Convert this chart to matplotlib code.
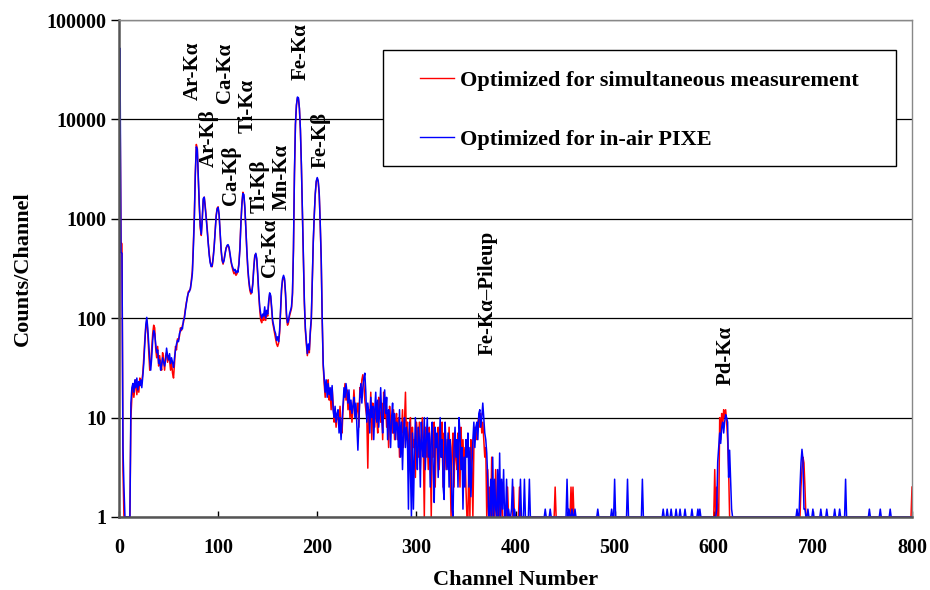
import matplotlib
matplotlib.use('Agg')
import matplotlib.pyplot as plt
import numpy as np
from matplotlib.patches import Rectangle
from matplotlib.ticker import FixedLocator, NullLocator, FuncFormatter

plt.rcParams['font.family'] = 'Liberation Serif'
plt.rcParams['font.weight'] = 'bold'

# Spectrum, channels 0-220 (characteristic X-ray peaks).
blue_main = [
    1, 52000, 460, 450, 5, 2, 1, 1, 1, 1,
    1, 1, 14, 20, 22, 18, 24, 20, 25, 19,
    23, 21, 24, 20, 26, 35, 55, 85, 102, 80,
    55, 38, 30, 40, 60, 75, 70, 55, 45, 48,
    35, 38, 30, 34, 40, 36, 33, 38, 50, 42,
    38, 44, 35, 40, 36, 32, 40, 48, 55, 60,
    58, 70, 75, 80, 78, 95, 100, 120, 140, 165,
    180, 185, 200, 230, 280, 500, 1000, 2800, 5300, 5000,
    2600, 1400, 850, 700, 1000, 1600, 1650, 1300, 1000, 750,
    560, 430, 360, 330, 340, 400, 520, 750, 1050, 1250,
    1300, 1100, 750, 500, 390, 360, 380, 440, 500, 540,
    550, 520, 450, 380, 340, 320, 300, 310, 285, 300,
    290, 350, 500, 900, 1400, 1800, 1750, 1300, 800, 480,
    320, 240, 200, 185, 180, 220, 320, 420, 450, 400,
    280, 180, 130, 110, 100, 110, 105, 130, 100, 120,
    110, 150, 180, 170, 130, 95, 85, 75, 70, 60,
    65, 58, 75, 120, 200, 250, 270, 250, 180, 110,
    90, 95, 110, 120, 130, 180, 500, 2900, 9000, 14000,
    16800, 16500, 13000, 8000, 3500, 1200, 400, 150, 80, 60,
    44, 55, 48, 75, 100, 250, 600, 1100, 1800, 2400,
    2600, 2400, 1800, 900, 400, 100, 35, 25, 18, 24,
    16, 22, 17, 20, 15, 21, 12, 10, 13, 9,
    11,
]
red_main = [
    1, 17000, 580, 560, 3, 1, 1, 1, 1, 1,
    1, 1, 10, 16, 22, 16, 20, 24, 17, 22,
    18, 25, 21, 23, 28, 40, 60, 80, 95, 70,
    45, 30, 35, 50, 70, 85, 80, 50, 40, 52,
    33, 42, 34, 30, 45, 38, 30, 42, 45, 36,
    42, 38, 30, 36, 28, 25, 35, 52, 48, 62,
    60, 66, 80, 75, 85, 90, 105, 125, 145, 160,
    185, 190, 195, 240, 300, 550, 1100, 2900, 5600, 5100,
    2500, 1350, 800, 680, 1000, 1550, 1650, 1350, 1050, 800,
    580, 450, 370, 340, 330, 410, 530, 760, 1080, 1280,
    1320, 1080, 730, 480, 380, 350, 390, 450, 510, 530,
    540, 500, 430, 370, 330, 300, 280, 290, 270, 280,
    300, 360, 520, 920, 1450, 1850, 1700, 1250, 780, 460,
    300, 230, 190, 175, 185, 230, 330, 430, 440, 380,
    260, 170, 120, 95, 90, 105, 95, 120, 95, 115,
    105, 140, 175, 165, 120, 90, 80, 70, 62, 55,
    52, 56, 70, 115, 190, 240, 260, 240, 170, 100,
    85, 90, 105, 115, 125, 170, 480, 2800, 8800, 13800,
    16500, 16200, 12800, 7800, 3400, 1150, 380, 140, 75, 55,
    42, 50, 45, 70, 95, 240, 580, 1080, 1750, 2350,
    2550, 2350, 1750, 880, 380, 95, 33, 22, 16, 21,
    19, 24, 15, 18, 12, 20, 14, 9, 11, 8,
    10,
]

# Continuum, channels 221-400.
blue_cont = [
    12, 7, 10, 6, 9, 14, 20, 16, 22, 18,
    14, 19, 12, 15, 11, 13, 16, 10, 14, 8,
    4.7, 9, 17, 22, 14, 20, 25, 28, 18, 9,
    14, 11, 7, 16, 10, 13, 6, 12, 18, 9,
    15, 8, 12, 20, 10, 7, 14, 19, 11, 16,
    6, 12, 9, 5, 10, 14, 7, 11, 6, 9,
    8, 5, 12, 4, 9, 3, 7, 10, 5, 8,
    6, 1.2, 9, 3, 1, 7, 1.2, 4, 10, 5,
    3, 8, 6, 2, 9, 5, 4, 10, 3, 6,
    10, 4, 7, 2, 6, 9, 3, 1.4, 8, 5,
    7, 2.5, 5, 10, 4, 6, 2, 1.5, 9, 5,
    3, 7, 2, 6, 4, 1.2, 1, 5, 8, 4,
    6, 2, 10, 7, 3, 5, 1.2, 4, 2, 6,
    4, 7, 2, 5, 1.6, 3, 6, 9, 5, 8,
    9, 6, 11, 12, 8, 10, 14, 10, 7, 6,
    4.4, 2.4, 1, 1, 2.4, 1, 4, 1, 2.4, 1.2,
    1, 3, 1, 4.4, 1, 2.4, 1.2, 3, 1, 1,
    2.4, 1, 1.2, 1, 1, 1.2, 2.4, 1, 1.2, 1,
]
red_cont = [
    10, 9, 13, 8, 7, 12, 17, 22, 15, 19,
    12, 17, 10, 14, 9, 12, 19, 13, 10, 12,
    14, 8, 20, 16, 24, 27, 22, 15, 12, 10,
    3.1, 12, 9, 18, 6, 14, 11, 8, 13, 10,
    7, 16, 11, 9, 14, 6, 18, 10, 13, 8,
    11, 5, 13, 8, 10, 7, 12, 6, 9, 11,
    6, 10, 4, 8, 7, 12, 5, 9, 18, 6,
    9, 4, 7, 10, 3, 8, 5, 6, 2.5, 9,
    7, 4, 9, 3, 6, 10, 5, 1, 8, 4,
    6, 3, 8, 5, 1, 7, 4, 9, 2, 6,
    5, 8, 3, 6, 4, 9, 2, 7, 5, 3,
    6, 4, 8, 3, 1, 5, 7, 2, 6, 4,
    3, 7, 5, 2, 8, 4, 6, 3, 5, 2,
    1, 1, 4, 1, 6, 3, 1, 5, 8, 7,
    6, 9, 10, 8, 11, 7, 9, 6, 4, 5,
    1, 3, 1, 2, 1, 4, 1, 2, 1, 3,
    1, 1, 2, 1, 1, 2, 1, 1, 1, 1,
    1, 2, 1, 1, 1, 1, 1, 2, 1, 1,
]

# Sparse high-channel counts (everything else sits at 1).
blue_tail_ch = [405, 409, 414, 430, 435, 452, 454, 457, 460, 483,
                497, 500, 513, 528, 549, 553, 557, 562, 566, 571,
                578, 584, 586, 603, 604, 605, 606, 607, 608, 609,
                610, 611, 612, 613, 614, 615, 616, 617, 618, 684,
                687, 688, 689, 690, 691, 692, 695, 700, 708, 714,
                722, 727, 733, 757, 768, 778]
blue_tail_val = [2.4, 2.4, 2.4, 1.2, 1.2, 2.4, 1.2, 1.2, 1.2, 1.2,
                 1.2, 2.4, 2.4, 2.4, 1.2, 1.2, 1.2, 1.2, 1.2, 1.2,
                 1.2, 1.2, 1.2, 1.2, 3.6, 5, 7, 5.5, 8, 9,
                 7, 9, 10.7, 10, 9, 2.5, 4.7, 2.4, 1.2, 1.2,
                 2, 3.5, 4.8, 3.8, 1.2, 1.2, 1.2, 1.2, 1.2, 1.2,
                 1.2, 1.2, 2.4, 1.2, 1.2, 1.2]
red_tail_ch = [404, 440, 456, 458, 601, 603, 606, 607, 608, 609,
               610, 611, 612, 613, 614, 615, 688, 689, 690, 691,
               692, 800]
red_tail_val = [2, 2, 2, 2, 3, 2, 10, 6, 11, 8,
                12, 10, 12, 9, 6, 3, 2, 3, 4, 3.5,
                2, 2]

# Peak labels: text, channel, counts at the label's lower end.
peak_names = ['Ar-Kα', 'Ar-Kβ', 'Ca-Kα', 'Ca-Kβ', 'Ti-Kα', 'Ti-Kβ',
              'Cr-Kα', 'Mn-Kα', 'Fe-Kα', 'Fe-Kβ', 'Fe-Kα–Pileup', 'Pd-Kα']
peak_ch = [74.5, 90.5, 106.5, 112.5, 129.5, 141.5, 152.4, 164.5, 183, 203, 371.5, 612]
peak_y = [15700, 3320, 14600, 1377, 7300, 1143, 260, 1227, 24900, 3245, 42.6, 21.3]

channels = np.arange(801)


def build(main, cont, tail_ch, tail_val):
    counts = np.ones(801)
    counts[:221] = main
    counts[221:401] = cont
    counts[tail_ch] = tail_val
    return counts


red = build(red_main, red_cont, red_tail_ch, red_tail_val)
blue = build(blue_main, blue_cont, blue_tail_ch, blue_tail_val)

fig = plt.figure(figsize=(9.3, 5.9), dpi=100)
ax = fig.add_axes([119 / 930, 1 - 517 / 590, 793 / 930, 497 / 590])

ax.plot(channels, red, color='#ff0000', lw=1.1,
        label='Optimized for simultaneous measurement')
ax.plot(channels, blue, color='#0000ff', lw=1.1,
        label='Optimized for in-air PIXE')

ax.set_yscale('log')
ax.set_xlim(0, 800)
ax.set_ylim(1, 100000)
ax.yaxis.set_major_locator(FixedLocator([1, 10, 100, 1000, 10000, 100000]))
ax.yaxis.set_minor_locator(NullLocator())
ax.yaxis.set_major_formatter(FuncFormatter(lambda v, p: '%d' % round(v)))
ax.set_xticks(np.arange(0, 801, 100))

ax.grid(axis='y', color='black', lw=0.9)
ax.set_axisbelow(True)
ax.tick_params(axis='x', direction='in', length=4, width=1, labelsize=14.5, pad=15)
ax.tick_params(axis='y', direction='out', length=6, width=1, labelsize=14.5, pad=3)

for side in ['left', 'bottom']:
    ax.spines[side].set_color('#555555')
    ax.spines[side].set_linewidth(1.8)
for side in ['top', 'right']:
    ax.spines[side].set_color('#888888')
    ax.spines[side].set_linewidth(1.0)

ax.set_xlabel('Channel Number', fontsize=16, fontweight='bold', labelpad=9)
ax.set_ylabel('Counts/Channel', fontsize=16, fontweight='bold', labelpad=10)

for name, c, y in zip(peak_names, peak_ch, peak_y):
    ax.text(c, y, name, rotation=90, ha='center', va='bottom',
            fontsize=15, fontweight='bold')

# Legend frame drawn separately so the entries sit centred in it.
ax.add_patch(Rectangle((0.333, 0.706), 0.647, 0.234, transform=ax.transAxes,
                       facecolor='white', edgecolor='black', lw=1.0, zorder=4))
leg = ax.legend(loc='center', bbox_to_anchor=(0.6565, 0.819), frameon=False,
                fontsize=16, labelspacing=1.72, handlelength=1.5,
                handletextpad=0.3, borderpad=0, borderaxespad=0)
leg.set_zorder(5)
for line in leg.get_lines():
    line.set_linewidth(1.0)

fig.savefig('out.png', dpi=100)
